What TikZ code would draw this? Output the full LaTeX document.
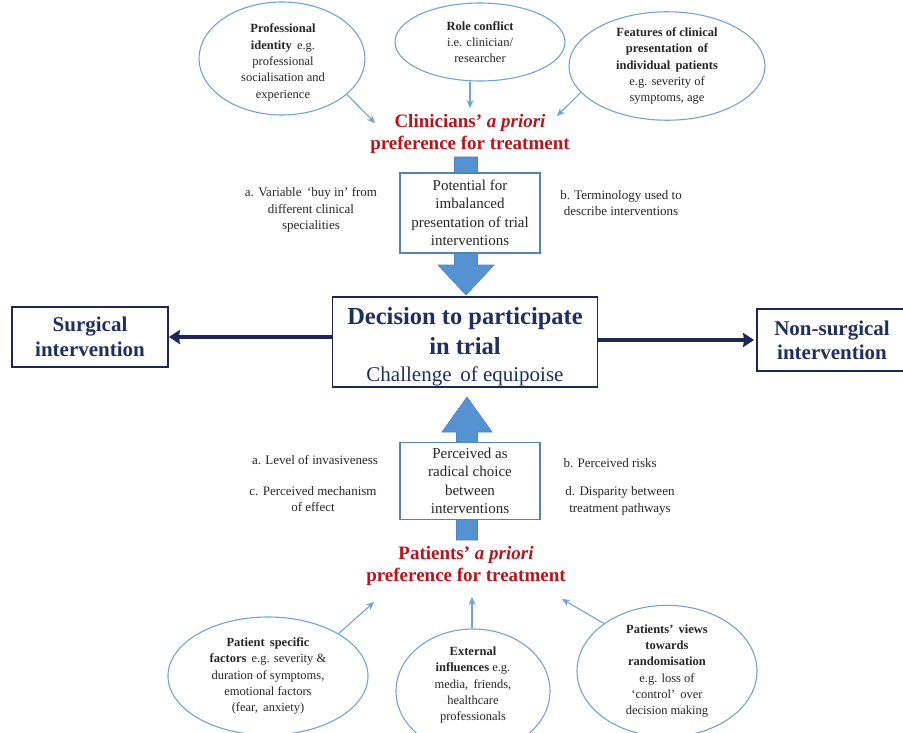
\documentclass[tikz,border=0pt]{standalone}
\usepackage{fontspec}
\setmainfont{Liberation Serif}
\usetikzlibrary{shapes.geometric,arrows.meta}

\definecolor{ovalblue}{HTML}{6FA3D6}
\definecolor{boxblue}{HTML}{4F86B2}
\definecolor{blockfill}{HTML}{5592D2}
\definecolor{blockline}{HTML}{4A83C0}
\definecolor{navy}{HTML}{1C2757}
\definecolor{navytext}{HTML}{1F2F5E}
\definecolor{titlered}{HTML}{B8141C}

\begin{document}
\begin{tikzpicture}[x=1pt,y=-1pt,
  oval/.style={ellipse, draw=ovalblue, line width=1.1pt, inner sep=0pt,
    align=center, text=black!85, font=\fontsize{12.5}{16.3}\selectfont},
  ovaltext/.style={align=center, inner sep=0pt, text=black!85,
    font=\fontsize{12.5}{16.3}\selectfont},
  feeder/.style={draw=ovalblue, line width=1.1pt,
    -{Stealth[length=8pt,width=7pt]}, color=ovalblue},
  heading/.style={align=center, text=titlered,
    font=\fontsize{19}{22.5}\selectfont\bfseries},
  midbox/.style={draw=boxblue, line width=1.2pt, fill=white, align=center,
    inner sep=2pt, text=black!85, font=\fontsize{15}{18.5}\selectfont},
  note/.style={align=center, text=black!85, font=\fontsize{13}{16.5}\selectfont},
  mainbox/.style={draw=navy, line width=1.8pt, fill=white, align=center,
    inner sep=2pt, text=navytext},
  sidearrow/.style={draw=navy, line width=3.6pt,
    -{Stealth[length=11pt,width=14pt,inset=1pt]}},
  blockarrow/.style={fill=blockfill, draw=blockline, line width=0.6pt}
]
\useasboundingbox (0,0) rectangle (903,733);

% ---------- block arrows (drawn first, boxes sit on top) ----------
\path[blockarrow] (454.5,157) -- (477.5,157) -- (477.5,265) -- (494,265)
  -- (466,295) -- (438,265) -- (454.5,265) -- cycle;
\path[blockarrow] (456.5,540) -- (477.5,540) -- (477.5,432) -- (492,432)
  -- (467,397) -- (442,432) -- (456.5,432) -- cycle;

% ---------- clinician influences ----------
\node[oval, minimum width=166pt, minimum height=113pt] (e1) at (282,58.5) {};
\node[ovaltext] (e1t) at (283,62.5)
  {\textbf{Professional}\\\textbf{identity}\, e.g.\\professional\\socialisation and\\experience};
\node[oval, minimum width=170pt, minimum height=78pt] (e2) at (480,42)
  {\textbf{Role conflict}\\i.e. clinician/\\researcher};
\node[oval, minimum width=196pt, minimum height=100pt] (e3) at (667,66)
  {\textbf{Features of clinical}\\\textbf{presentation\, of}\\\textbf{individual\, patients}\\e.g. severity of\\symptoms, age};

\node[heading] (clin) at (470,134)
  {Clinicians’ \textit{a priori}\\preference for treatment};

\coordinate (t1) at (375,123);
\coordinate (t2) at (470,108);
\coordinate (t3) at (557,116);
\draw[feeder] (e1.331) -- (t1);
\draw[feeder] (e2.south -| t2) -- (t2);
\draw[feeder] (e3.197) -- (t3);

\node[midbox, minimum width=140pt, minimum height=80pt] (pot) at (470,213)
  {Potential for\\imbalanced\\presentation of trial\\interventions};
\node[note] (na) at (311,210) {a. Variable\, ‘buy in’ from\\different clinical\\specialities};
\node[note] (nb) at (621,203) {b. Terminology used to\\describe interventions};

% ---------- decision and outcomes ----------
\node[mainbox, minimum width=265pt, minimum height=90pt] (dec) at (465,342) {};
\node[align=center, inner sep=0pt, text=navytext,
  font=\fontsize{24.5}{30}\selectfont\bfseries] (dect) at (465,346.5)
  {Decision to participate\\in trial\\[-3pt]
   {\fontsize{21}{24}\selectfont\mdseries Challenge\, of equipoise}};
\node[mainbox, minimum width=156pt, minimum height=60pt,
  font=\fontsize{21}{25}\selectfont\bfseries] (surg) at (90,337)
  {Surgical\\intervention};
\node[mainbox, minimum width=150pt, minimum height=62pt,
  font=\fontsize{21}{24}\selectfont\bfseries] (nons) at (832,340)
  {Non-surgical\\intervention};

\draw[sidearrow] (dec.west |- surg.east) -- (surg.east);
\draw[sidearrow] (dec.east |- nons.west) -- ([xshift=-2pt]nons.west);

% ---------- patient side ----------
\node[midbox, minimum width=140pt, minimum height=77pt] (rad) at (470,481)
  {Perceived as\\radical choice\\between\\interventions};
\node[note] (pa) at (315,460) {a. Level of invasiveness};
\node[note] (pc) at (313,499) {c. Perceived mechanism\\of effect};
\node[note, anchor=west] (pb) at (560,463) {b. Perceived risks};
\node[note] (pd) at (620,501) {d. Disparity between\\treatment pathways};

\node[heading] (pat) at (466,566)
  {Patients’ \textit{a priori}\\preference for treatment};

\node[oval, minimum width=200pt, minimum height=118pt] (f1) at (268,676)
  {\textbf{Patient\, specific}\\\textbf{factors}\, e.g. severity \&\\duration of symptoms,\\emotional factors\\(fear,\, anxiety)};
\node[oval, minimum width=154pt, minimum height=124pt] (f2) at (473,691) {};
\node[ovaltext] (f2t) at (473,685)
  {\textbf{External}\\\textbf{influences} e.g.\\media,\, friends,\\healthcare\\professionals};
\node[oval, minimum width=180pt, minimum height=118pt] (f3) at (667,671)
  {\textbf{Patients’\, views}\\\textbf{towards}\\\textbf{randomisation}\\e.g. loss of\\‘control’\, over\\decision making};

\coordinate (p1) at (374,602);
\coordinate (p2) at (472,597);
\coordinate (p3) at (562,599);
\draw[feeder] (f1.31) -- (p1);
\draw[feeder] (f2.north -| p2) -- (p2);
\draw[feeder] (f3.143) -- (p3);
\end{tikzpicture}
\end{document}
